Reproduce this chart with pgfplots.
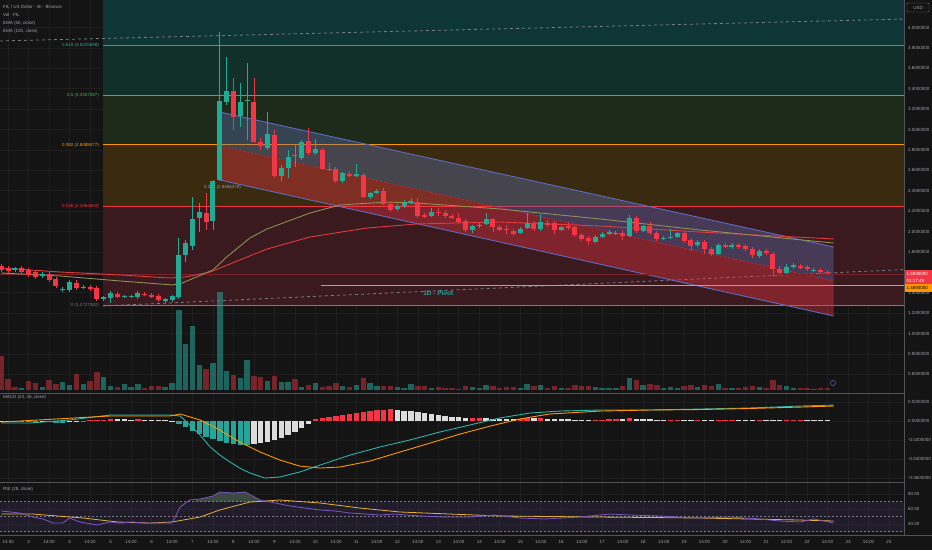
\documentclass[border=0pt]{standalone}
\usepackage{pgfplots}
\usepackage{pgfplotstable}
\usepackage{fontspec}
\setmainfont{Liberation Sans}
\pgfplotsset{compat=1.18}

\definecolor{bg}{HTML}{141414}
\definecolor{gridc}{HTML}{1E1E1E}
\definecolor{lblc}{HTML}{A0A3AB}
\definecolor{up}{HTML}{22AB94}
\definecolor{dn}{HTML}{F23645}
\definecolor{zA}{HTML}{0E3637}
\definecolor{zB}{HTML}{12302A}
\definecolor{zC}{HTML}{1E2B1A}
\definecolor{zD}{HTML}{3A2A10}
\definecolor{zE}{HTML}{3A1A1F}
\definecolor{fA}{HTML}{26A69A}
\definecolor{fB}{HTML}{4CAF50}
\definecolor{fC}{HTML}{FF9800}
\definecolor{fE}{HTML}{787B86}
\definecolor{chan}{HTML}{5B6FB0}
\definecolor{chanline}{HTML}{5C6BC0}
\definecolor{emaA}{HTML}{8E8E55}
\definecolor{emaB}{HTML}{E0393E}
\definecolor{macdc}{HTML}{2BB3A8}
\definecolor{hwhite}{HTML}{DCDCDC}
\definecolor{rsic}{HTML}{7E57C2}
\definecolor{rsima}{HTML}{E6B13A}

\newcommand{\tl}{\fontsize{4.5}{5.4}\selectfont}

% 4h candles, x = candle index
\pgfplotstableread{
i o h l c
0 1.662 1.681 1.603 1.623
1 1.642 1.662 1.593 1.613
2 1.623 1.652 1.603 1.642
3 1.642 1.662 1.583 1.603
4 1.623 1.642 1.554 1.574
5 1.603 1.623 1.534 1.554
6 1.564 1.603 1.544 1.583
7 1.583 1.603 1.505 1.525
8 1.534 1.554 1.446 1.466
9 1.427 1.456 1.407 1.436
10 1.427 1.525 1.407 1.505
11 1.495 1.525 1.427 1.446
12 1.446 1.476 1.436 1.456
13 1.456 1.476 1.417 1.436
14 1.446 1.466 1.319 1.338
15 1.338 1.368 1.319 1.358
16 1.348 1.417 1.299 1.397
17 1.387 1.407 1.348 1.358
18 1.358 1.378 1.348 1.368
19 1.363 1.378 1.348 1.368
20 1.358 1.417 1.338 1.397
21 1.387 1.407 1.368 1.378
22 1.378 1.397 1.348 1.358
23 1.368 1.387 1.309 1.328
24 1.319 1.348 1.299 1.338
25 1.328 1.378 1.309 1.368
26 1.358 1.936 1.338 1.770
27 1.770 1.917 1.701 1.887
28 1.858 2.338 1.819 2.123
29 2.132 2.279 1.995 2.191
30 2.181 2.377 2.015 2.093
31 2.103 2.505 2.015 2.495
32 2.505 3.956 2.495 3.279
33 3.270 3.711 3.240 3.377
34 3.377 3.505 2.995 3.123
35 3.132 3.456 3.025 3.270
36 3.279 3.652 2.897 3.289
37 3.270 3.505 2.868 2.877
38 2.877 2.917 2.799 2.838
39 2.819 3.172 2.799 2.956
40 2.946 2.995 2.525 2.544
41 2.544 2.652 2.495 2.623
42 2.623 2.799 2.525 2.730
43 2.740 2.848 2.632 2.750
44 2.721 2.897 2.701 2.877
45 2.887 3.015 2.750 2.770
46 2.770 2.907 2.750 2.809
47 2.799 2.819 2.603 2.613
48 2.613 2.672 2.593 2.603
49 2.613 2.632 2.476 2.495
50 2.495 2.583 2.476 2.574
51 2.564 2.583 2.534 2.544
52 2.544 2.662 2.534 2.564
53 2.554 2.574 2.328 2.338
54 2.338 2.387 2.319 2.377
55 2.377 2.417 2.368 2.397
56 2.397 2.427 2.260 2.270
57 2.270 2.289 2.191 2.211
58 2.221 2.270 2.201 2.250
59 2.250 2.309 2.230 2.279
60 2.279 2.328 2.270 2.299
61 2.289 2.328 2.132 2.152
62 2.162 2.181 2.132 2.142
63 2.152 2.230 2.142 2.191
64 2.191 2.230 2.152 2.181
65 2.181 2.211 2.132 2.152
66 2.152 2.172 2.123 2.132
67 2.132 2.181 2.074 2.093
68 2.103 2.123 1.995 2.015
69 2.015 2.064 1.985 2.054
70 2.054 2.083 2.034 2.064
71 2.074 2.181 2.064 2.123
72 2.123 2.132 1.995 2.044
73 2.044 2.064 2.005 2.015
74 2.025 2.064 1.976 2.015
75 2.005 2.025 1.956 1.976
76 1.985 2.044 1.976 2.025
77 2.034 2.181 2.025 2.083
78 2.083 2.103 2.005 2.025
79 2.025 2.172 2.005 2.093
80 2.083 2.113 2.044 2.064
81 2.083 2.103 1.976 2.015
82 2.015 2.054 2.005 2.044
83 2.054 2.093 2.015 2.034
84 2.044 2.064 1.946 1.966
85 1.966 1.985 1.907 1.927
86 1.936 1.956 1.868 1.907
87 1.897 1.966 1.887 1.946
88 1.946 1.995 1.936 1.976
89 1.976 2.015 1.966 1.995
90 1.985 2.005 1.966 1.990
91 1.985 2.015 1.917 1.956
92 1.956 2.162 1.946 2.132
93 2.132 2.152 1.985 2.005
94 2.005 2.064 1.995 2.054
95 2.054 2.093 1.966 1.985
96 1.985 2.005 1.907 1.927
97 1.927 1.956 1.917 1.941
98 1.936 2.025 1.927 1.946
99 1.946 1.995 1.936 1.985
100 1.985 2.005 1.887 1.907
101 1.917 1.936 1.809 1.858
102 1.868 1.917 1.848 1.897
103 1.897 1.917 1.779 1.828
104 1.828 1.848 1.760 1.779
105 1.779 1.887 1.770 1.868
106 1.868 1.887 1.838 1.848
107 1.848 1.887 1.828 1.868
108 1.868 1.887 1.828 1.848
109 1.858 1.877 1.809 1.828
110 1.828 1.848 1.740 1.770
111 1.760 1.828 1.740 1.809
112 1.809 1.828 1.770 1.789
113 1.779 1.799 1.554 1.632
114 1.632 1.662 1.574 1.593
115 1.593 1.681 1.583 1.652
116 1.652 1.691 1.632 1.672
117 1.662 1.681 1.632 1.642
118 1.652 1.672 1.613 1.632
119 1.618 1.642 1.603 1.623
120 1.623 1.642 1.583 1.603
121 1.603 1.623 1.574 1.593
}\candles

\pgfplotstableread{
i v up
0 34 0
1 11 0
2 3 0
3 2 1
4 9 0
5 7 0
6 3 1
7 10 0
8 6 0
9 8 1
10 5 1
11 16 0
12 6 1
13 9 0
14 18 0
15 13 1
16 4 1
17 3 0
18 6 1
19 3 1
20 6 1
21 2 0
22 4 0
23 4 0
24 3 1
25 7 1
26 80 1
27 46 1
28 64 1
29 25 1
30 21 0
31 27 1
32 98 1
33 19 1
34 15 0
35 12 1
36 30 1
37 14 0
38 13 0
39 9 1
40 14 0
41 8 1
42 8 1
43 11 0
44 3 1
45 5 0
46 7 1
47 3 0
48 4 0
49 7 0
50 4 1
51 3 0
52 5 1
53 12 0
54 7 1
55 4 1
56 4 0
57 4 0
58 3 1
59 2 1
60 6 1
61 4 0
62 4 0
63 2 1
64 3 0
65 2 0
66 2 0
67 1 0
68 4 0
69 3 1
70 2 1
71 5 1
72 4 0
73 2 0
74 3 0
75 3 0
76 2 1
77 6 1
78 4 0
79 5 1
80 2 0
81 4 0
82 2 1
83 2 0
84 5 0
85 4 0
86 4 0
87 3 1
88 2 1
89 2 1
90 2 1
91 4 0
92 12 1
93 10 0
94 5 1
95 6 0
96 5 0
97 2 1
98 3 1
99 2 1
100 4 0
101 5 0
102 3 1
103 5 0
104 4 0
105 6 1
106 2 0
107 2 1
108 2 0
109 3 0
110 4 0
111 3 1
112 2 0
113 10 0
114 5 0
115 4 1
116 2 1
117 2 0
118 2 0
119 1 1
120 2 0
121 2 0
}\volume

% MACD histogram; col: 1 teal, 2 light, 3 red
\pgfplotstableread{
i v col
0 -0.0011 2
1 -0.0011 2
2 -0.0011 1
3 -0.0011 1
4 -0.0011 1
5 -0.0016 1
6 -0.0011 2
7 -0.0011 2
8 -0.0016 1
9 -0.0021 1
10 -0.0011 2
11 -0.0005 2
12 0.0005 3
13 0.0011 3
14 0.0011 3
15 0.0016 3
16 0.0021 3
17 0.0021 2
18 0.0021 2
19 0.0016 2
20 0.0021 3
21 0.0016 2
22 0.0016 2
23 0.0011 2
24 0.0011 2
25 0.0005 2
26 -0.0032 1
27 -0.0063 1
28 -0.0105 1
29 -0.0137 1
30 -0.0168 1
31 -0.0189 1
32 -0.0211 1
33 -0.0232 1
34 -0.0242 1
35 -0.0253 1
36 -0.0253 1
37 -0.0242 2
38 -0.0232 2
39 -0.0221 2
40 -0.0200 2
41 -0.0179 2
42 -0.0147 2
43 -0.0116 2
44 -0.0074 2
45 -0.0032 2
46 0.0021 3
47 0.0032 3
48 0.0042 3
49 0.0053 3
50 0.0063 3
51 0.0074 3
52 0.0084 3
53 0.0095 3
54 0.0105 3
55 0.0116 3
56 0.0116 3
57 0.0126 3
58 0.0116 2
59 0.0105 2
60 0.0105 2
61 0.0095 2
62 0.0084 2
63 0.0074 2
64 0.0063 2
65 0.0053 2
66 0.0042 2
67 0.0042 2
68 0.0032 2
69 0.0032 3
70 0.0032 3
71 0.0032 2
72 0.0021 2
73 0.0021 2
74 0.0021 2
75 0.0021 2
76 0.0021 3
77 0.0032 3
78 0.0032 2
79 0.0032 3
80 0.0021 2
81 0.0021 2
82 0.0021 2
83 0.0021 2
84 0.0011 2
85 0.0011 2
86 0.0011 2
87 0.0011 3
88 0.0011 3
89 0.0021 3
90 0.0021 3
91 0.0021 2
92 0.0032 3
93 0.0021 2
94 0.0021 2
95 0.0021 2
96 0.0011 2
97 0.0011 2
98 0.0011 3
99 0.0011 3
100 0.0011 2
101 0.0011 2
102 0.0011 3
103 0.0011 2
104 0.0011 2
105 0.0011 3
106 0.0011 3
107 0.0011 3
108 0.0011 2
109 0.0011 2
110 0.0011 2
111 0.0011 3
112 0.0011 2
113 0.0011 2
114 0.0011 2
115 0.0011 3
116 0.0011 3
117 0.0011 3
118 0.0011 2
119 0.0011 2
120 0.0011 2
121 0.0011 2
}\hist

\pgfplotsset{
  pane/.style={scale only axis, anchor=north west, width=904pt,
    xmin=-0.19, xmax=132.2,
    axis line style={draw=none}, tick style={draw=none}, major tick length=0pt,
    xtick={1,4,...,130}, xticklabels={},
    xmajorgrids, ymajorgrids, major grid style={draw=gridc, line width=0.6pt},
    ytick pos=right, yticklabel pos=right, scaled y ticks=false,
    yticklabel style={font=\tl, text=lblc, anchor=west, xshift=0.5pt},
  },
  over/.style={scale only axis, anchor=north west, width=904pt,
    xmin=-0.19, xmax=132.2, hide axis},
}

\begin{document}
\begin{tikzpicture}
\useasboundingbox (0,0) rectangle (932pt,-550pt);
\fill[bg] (0,0) rectangle (932pt,-550pt);

% ---------- price pane: fib zones and grid
\begin{axis}[pane, at={(0pt,0pt)}, height=393pt, ymin=0.4167, ymax=4.2696,
  ytick={0.6,0.8,1.0,1.2,1.4,1.6,1.8,2.0,2.2,2.4,2.6,2.8,3.0,3.2,3.4,3.6,3.8,4.0},
  yticklabel style={/pgf/number format/fixed, /pgf/number format/fixed zerofill,
    /pgf/number format/precision=7, /pgf/number format/assume math mode=true}]
\addplot[fill=zA, draw=none] coordinates {(14.9,3.8226) (140,3.8226) (140,4.6) (14.9,4.6)} -- cycle;
\addplot[fill=zB, draw=none] coordinates {(14.9,3.3357) (140,3.3357) (140,3.8226) (14.9,3.8226)} -- cycle;
\addplot[fill=zC, draw=none] coordinates {(14.9,2.8488) (140,2.8488) (140,3.3357) (14.9,3.3357)} -- cycle;
\addplot[fill=zD, draw=none] coordinates {(14.9,2.2465) (140,2.2465) (140,2.8488) (14.9,2.8488)} -- cycle;
\addplot[fill=zE, draw=none] coordinates {(14.9,1.2727) (140,1.2727) (140,2.2465) (14.9,2.2465)} -- cycle;
\addplot[fA, line width=1.1pt] coordinates {(14.9,3.8226) (140,3.8226)};
\addplot[fB, line width=1.1pt] coordinates {(14.9,3.3357) (140,3.3357)};
\addplot[fC, line width=1.1pt] coordinates {(14.9,2.8488) (140,2.8488)};
\addplot[dn, line width=1.1pt] coordinates {(14.9,2.2465) (140,2.2465)};
\addplot[fE, line width=1.1pt] coordinates {(14.9,1.2727) (140,1.2727)};
\node[anchor=east, font=\tl, text=fA] at (axis cs:14.8,3.8226) {0.618 (3.8225698)};
\node[anchor=east, font=\tl, text=fB] at (axis cs:14.8,3.3357) {0.5 (3.3357087)};
\node[anchor=east, font=\tl, text=fC] at (axis cs:14.8,2.8488) {0.382 (2.8488477)};
\node[anchor=east, font=\tl, text=dn] at (axis cs:14.8,2.2465) {0.236 (2.2464604)};
\node[anchor=east, font=\tl, text=fE] at (axis cs:14.8,1.2727) {0 (1.2727382)};
% dashed trend lines
\addplot[fE, line width=0.8pt, dash pattern=on 3pt off 3pt] coordinates {(-0.19,3.868) (132.2,4.083)};
\addplot[fE, line width=0.8pt, dash pattern=on 3pt off 3pt] coordinates {(14.9,1.270) (132.2,1.627)};
\end{axis}

% ---------- volume
\begin{axis}[over, at={(0pt,-290pt)}, height=100pt, ymin=0, ymax=100]
\addplot[draw=fA, draw opacity=0.55, line width=5.4pt, quiver={u=0, v=\thisrow{v}},
  restrict expr to domain={\thisrow{up}}{0.5:1.5}] table[x=i, y expr=0] {\volume};
\addplot[draw=dn, draw opacity=0.45, line width=5.4pt, quiver={u=0, v=\thisrow{v}},
  restrict expr to domain={\thisrow{up}}{-0.5:0.5}] table[x=i, y expr=0] {\volume};
\end{axis}

% ---------- channel, EMAs, candles
\begin{axis}[over, at={(0pt,0pt)}, height=393pt, ymin=0.4167, ymax=4.2696]
\addplot[fill=chan, fill opacity=0.38, draw=none] coordinates {(32,3.171) (121.9,1.848) (121.9,1.515) (32,2.838)} -- cycle;
\addplot[fill=dn, fill opacity=0.38, draw=none] coordinates {(32,2.838) (121.9,1.515) (121.9,1.172) (32,2.505)} -- cycle;
\addplot[chanline, line width=0.9pt] coordinates {(32,3.171) (121.9,1.848)};
\addplot[chanline, line width=0.9pt] coordinates {(32,2.505) (121.9,1.172)};
\addplot[dn!80!black, line width=0.7pt, dash pattern=on 2pt off 2pt] coordinates {(32,2.838) (121.9,1.515)};
\addplot[dn!45!bg, line width=0.7pt] coordinates {(-0.19,1.583) (132.2,1.583)};
\addplot[fC, line width=1pt] coordinates {(46.8,1.4686) (132.2,1.4686)};
\node[font=\fontsize{6.5}{7}\selectfont\bfseries, text=fA] at (axis cs:64,1.397) {1D - Pivot};
\node[anchor=west, font=\tl, text=lblc!80!rsic] at (axis cs:29.2,2.436) {0.382 (2.8486378)};
% EMA 100 and EMA 50
\addplot[emaB, line width=0.9pt] coordinates {(0,1.642) (8.6,1.603) (17.4,1.574) (24.7,1.544) (26.9,1.554) (30.6,1.603) (36,1.750) (38.9,1.828) (45.2,1.946) (53.5,2.034) (60.9,2.074) (73,2.093) (87.7,2.054) (102.3,1.995) (121.9,1.927)};
\addplot[emaA, line width=0.9pt] coordinates {(0,1.593) (8.6,1.564) (17.4,1.515) (25.1,1.476) (26.5,1.495) (31,1.623) (33,1.750) (36.4,1.936) (38.9,2.025) (45.2,2.181) (49.6,2.260) (56.5,2.289) (60.9,2.279) (73,2.221) (87.7,2.123) (102.3,2.015) (121.9,1.887)};
% wicks
\addplot[draw=up, line width=0.8pt, quiver={u=0, v=\thisrow{h}-\thisrow{l}},
  restrict expr to domain={\thisrow{c}-\thisrow{o}}{0:10}] table[x=i, y=l] {\candles};
\addplot[draw=dn, line width=0.8pt, quiver={u=0, v=\thisrow{h}-\thisrow{l}},
  restrict expr to domain={\thisrow{c}-\thisrow{o}}{-10:-0.00001}] table[x=i, y=l] {\candles};
% bodies
\addplot[draw=up, line width=5pt, quiver={u=0, v=\thisrow{c}-\thisrow{o}},
  restrict expr to domain={\thisrow{c}-\thisrow{o}}{0:10}] table[x=i, y=o] {\candles};
\addplot[draw=dn, line width=5pt, quiver={u=0, v=\thisrow{c}-\thisrow{o}},
  restrict expr to domain={\thisrow{c}-\thisrow{o}}{-10:-0.00001}] table[x=i, y=o] {\candles};
\end{axis}

% ---------- MACD
\begin{axis}[pane, at={(0pt,-393pt)}, height=89pt, ymin=-0.0642, ymax=0.0295,
  ytick={-0.06,-0.04,-0.02,0,0.02},
  yticklabel style={/pgf/number format/fixed, /pgf/number format/fixed zerofill,
    /pgf/number format/precision=7, /pgf/number format/assume math mode=true}]
\addplot[draw=fA, line width=5.4pt, quiver={u=0, v=\thisrow{v}},
  restrict expr to domain={\thisrow{col}}{0.5:1.5}] table[x=i, y expr=0] {\hist};
\addplot[draw=hwhite, line width=5.4pt, quiver={u=0, v=\thisrow{v}},
  restrict expr to domain={\thisrow{col}}{1.5:2.5}] table[x=i, y expr=0] {\hist};
\addplot[draw=dn, line width=5.4pt, quiver={u=0, v=\thisrow{v}},
  restrict expr to domain={\thisrow{col}}{2.5:3.5}] table[x=i, y expr=0] {\hist};
\addplot[macdc, line width=0.9pt] coordinates {(0,-0.0021) (4.2,-0.0021) (10,0.0011) (15.9,0.0063) (24.7,0.0063) (26.2,0.0053) (27.6,-0.0042) (29.1,-0.0147) (30.6,-0.0274) (32,-0.0358) (33.5,-0.0432) (34.9,-0.0495) (36.4,-0.0547) (38.6,-0.0600) (40.8,-0.0589) (43.7,-0.0537) (46.7,-0.0463) (51.1,-0.0358) (55.4,-0.0274) (59.8,-0.0200) (64.2,-0.0116) (68.6,-0.0042) (73,0.0032) (77.4,0.0084) (81.8,0.0105) (87.7,0.0116) (95,0.0116) (102.3,0.0126) (109.6,0.0137) (117,0.0158) (121.9,0.0168)};
\addplot[fC, line width=0.9pt] coordinates {(0,-0.0011) (15.9,0.0053) (24.7,0.0053) (26.2,0.0074) (29.1,0.0011) (32,-0.0095) (34.9,-0.0221) (37.9,-0.0326) (40.8,-0.0411) (43.7,-0.0474) (46.7,-0.0495) (49.6,-0.0484) (54,-0.0421) (58.4,-0.0326) (62.8,-0.0232) (67.2,-0.0137) (71.6,-0.0053) (75.9,0.0021) (80.3,0.0074) (87.7,0.0105) (95,0.0116) (102.3,0.0121) (109.6,0.0132) (117,0.0147) (121.9,0.0158)};
\end{axis}

% ---------- RSI
\begin{axis}[pane, at={(0pt,-482pt)}, height=53pt, ymin=25.33, ymax=96,
  ytick={40,60,80},
  yticklabel style={/pgf/number format/fixed, /pgf/number format/fixed zerofill,
    /pgf/number format/precision=2, /pgf/number format/assume math mode=true},
  xticklabels={14:00,3,14:00,4,14:00,5,14:00,6,14:00,7,14:00,8,14:00,9,14:00,10,14:00,11,14:00,12,14:00,13,14:00,14,14:00,15,14:00,16,14:00,17,14:00,18,14:00,19,14:00,20,14:00,21,14:00,22,14:00,23,14:00,24},
  xticklabel style={font=\tl, text=lblc, yshift=-2pt}]
\addplot[fill=rsic, fill opacity=0.12, draw=none] coordinates {(-0.19,30) (132.2,30) (132.2,70) (-0.19,70)} -- cycle;
\addplot[fE, line width=0.5pt, dash pattern=on 2pt off 2pt] coordinates {(-0.19,70) (132.2,70)};
\addplot[fE, line width=0.5pt, dash pattern=on 2pt off 2pt] coordinates {(-0.19,50) (132.2,50)};
\addplot[fE, line width=0.5pt, dash pattern=on 2pt off 2pt] coordinates {(-0.19,30) (132.2,30)};
\addplot[fill=fE!70!fB, fill opacity=0.45, draw=none] coordinates {(28.2,70) (29.1,73.3) (31,77.3) (32,82.7) (34,81.3) (35.7,82.7) (37.9,72) (38.3,70)} -- cycle;
\addplot[rsima, line width=0.8pt] coordinates {(0,53.3) (4.6,53.3) (12,48) (17,42.7) (21.8,41.3) (25,42.7) (29.1,49.3) (32,58.7) (36.4,69.3) (40.8,72) (46.7,68) (52.5,61.3) (58.4,56) (65.7,53.3) (73,50.7) (87.7,49.3) (102.3,48) (117,45.3) (121.9,44)};
\addplot[rsic, line width=0.8pt] coordinates {(0,57.3) (2.7,54.7) (4.6,49.3) (6.1,46.7) (7.6,41.3) (9,41.3) (10,48) (11.5,42.7) (14,38.7) (15.9,42.7) (17.4,41.3) (19.3,42.7) (20.7,41.3) (23.2,41.3) (25,41.3) (26.2,62.7) (27.6,72) (29.1,73.3) (31,77.3) (32,82.7) (34,81.3) (35.7,82.7) (37.9,72) (40.1,68) (42.3,64) (44.5,61.3) (46.7,58.7) (48.9,57.3) (51.1,54.7) (55.4,52) (57.6,53.3) (61.3,50.7) (65,49.3) (68.6,49.3) (72.3,52) (75.9,48) (79.6,46.7) (84.7,49.3) (89.1,53.3) (92,52) (96.4,50.7) (99.4,49.3) (102.3,48) (106.7,49.3) (111.1,46.7) (114,44) (117,42.7) (119,46.7) (121.9,41.3)};
\end{axis}

% ---------- separators and labels
\draw[color=gridc!60!lblc, line width=0.8pt] (0,-393pt) -- (904pt,-393pt);
\draw[color=gridc!60!lblc, line width=0.8pt] (0,-482pt) -- (904pt,-482pt);
\draw[color=gridc!60!lblc, line width=0.6pt] (904pt,0) -- (904pt,-535pt);
\draw[color=gridc!60!lblc, line width=0.6pt] (0,-535pt) -- (932pt,-535pt);
\fill[dn] (905pt,-270pt) rectangle (932pt,-284pt);
\node[anchor=west, font=\tl, text=white, inner sep=0pt] at (906.5pt,-274pt) {1.5930000};
\node[anchor=west, font=\tl, text=white, inner sep=0pt] at (906.5pt,-280.5pt) {01:17:48};
\fill[fC] (905pt,-284pt) rectangle (932pt,-292pt);
\node[anchor=west, font=\tl, text=black, inner sep=0pt] at (906.5pt,-288pt) {1.4690000};
\draw[lblc!60!bg, rounded corners=1pt, line width=0.4pt] (907pt,-3pt) rectangle (929pt,-12pt);
\node[font=\tl, text=lblc] at (918pt,-7.5pt) {USD};
\node[anchor=west, font=\tl, text=lblc, inner sep=0pt] at (3pt,-7pt) {FIL / US Dollar · 4h · Binance};
\node[anchor=west, font=\tl, text=lblc, inner sep=0pt] at (3pt,-15pt) {Vol · FIL};
\node[anchor=west, font=\tl, text=lblc, inner sep=0pt] at (3pt,-23pt) {EMA (50, close)};
\node[anchor=west, font=\tl, text=lblc, inner sep=0pt] at (3pt,-31pt) {EMA (100, close)};
\node[anchor=west, font=\tl, text=lblc, inner sep=0pt] at (3pt,-397pt) {MACD (23, 26, close)};
\node[anchor=west, font=\tl, text=lblc, inner sep=0pt] at (3pt,-489pt) {RSI (28, close)};
\draw[rsic, line width=0.5pt] (833pt,-383pt) circle (2.5pt);
\end{tikzpicture}
\end{document}
